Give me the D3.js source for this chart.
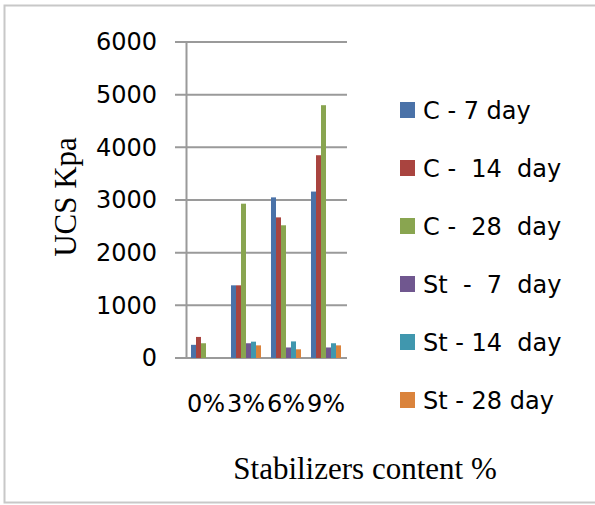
<!DOCTYPE html>
<html><head><meta charset="utf-8">
<script src="https://cdn.jsdelivr.net/npm/d3@7"></script>
<style>body{margin:0;background:#fff}svg{display:block}</style>
</head><body>
<svg id="c" width="595" height="505"></svg>
<script>
const categories = ["0%", "3%", "6%", "9%"];
const seriesNames = ["C - 7 day", "C -  14  day", "C -  28  day", "St  -  7  day", "St - 14  day", "St - 28 day"];
const c7  = [250, 1380, 3050, 3160];
const c14 = [400, 1380, 2670, 3850];
const c28 = [280, 2930, 2520, 4800];
const st7  = [0, 280, 200, 200];
const st14 = [0, 310, 315, 280];
const st28 = [0, 240, 165, 240];
const yTicks = [0, 1000, 2000, 3000, 4000, 5000, 6000];
const colors = ["#4A72A8", "#A9443F", "#89A550", "#70578F", "#4097AE", "#DA833C"];
const series = [c7, c14, c28, st7, st14, st28];

const sans = "DejaVu Sans, Verdana, sans-serif";
const serif = "Liberation Serif, Times New Roman, serif";

const svg = d3.select("#c");
svg.append("rect").attr("x", 4.5).attr("y", 5.5).attr("width", 600).attr("height", 497)
  .attr("fill", "#fff").attr("stroke", "#c8c8c8").attr("stroke-width", 2);

const x0 = d3.scaleBand().domain(categories).range([186, 346]).paddingInner(0.25).paddingOuter(0.125);
const x1 = d3.scaleBand().domain(d3.range(series.length)).range([0, x0.bandwidth()]);
const y = d3.scaleLinear().domain([0, 6000]).range([358, 42]);

// gridlines
svg.append("g").selectAll("line").data(yTicks).join("line")
  .attr("x1", 175).attr("x2", 347).attr("y1", d => y(d)).attr("y2", d => y(d))
  .attr("stroke", "#9a9a9a").attr("stroke-width", 2);

// axis
const yAxis = d3.axisLeft(y).tickValues(yTicks).tickSize(0).tickPadding(29).tickFormat(d3.format("d"));
const ga = svg.append("g").attr("transform", "translate(186,0)").call(yAxis);
ga.select(".domain").attr("stroke", "#9a9a9a").attr("stroke-width", 2);
ga.selectAll("text").attr("font-family", sans).attr("font-size", 24).attr("fill", "#000");

// bars
const g = svg.append("g");
series.forEach((vals, si) => {
  g.append("g").selectAll("rect").data(vals).join("rect")
    .attr("x", (d, i) => x0(categories[i]) + x1(si))
    .attr("width", x1.bandwidth())
    .attr("y", d => y(d))
    .attr("height", d => y(0) - y(d))
    .attr("fill", colors[si]);
});

// x labels
svg.append("g").selectAll("text").data(categories).join("text")
  .attr("x", d => x0(d) + x0.bandwidth() / 2).attr("y", 412)
  .attr("text-anchor", "middle").attr("font-family", sans)
  .attr("font-size", 24).attr("fill", "#000").text(d => d);

// axis titles
svg.append("text").attr("x", 365).attr("y", 479).attr("text-anchor", "middle")
  .attr("font-family", serif).attr("font-size", 31)
  .attr("fill", "#000").text("Stabilizers content %");
svg.append("text").attr("transform", "translate(76,197) rotate(-90)").attr("text-anchor", "middle")
  .attr("font-family", serif).attr("font-size", 31)
  .attr("fill", "#000").text("UCS Kpa");

// legend
const lg = svg.append("g").selectAll("g").data(seriesNames).join("g")
  .attr("transform", (d, i) => `translate(400,${110 + i * 58})`);
lg.append("rect").attr("x", 0).attr("y", -8).attr("width", 15).attr("height", 16).attr("fill", (d, i) => colors[i]);
lg.append("text").attr("x", 23).attr("y", 0).attr("dy", "0.36em")
  .attr("font-family", sans).attr("font-size", 24)
  .attr("fill", "#000").style("white-space", "pre").text(d => d);
</script>
</body></html>
